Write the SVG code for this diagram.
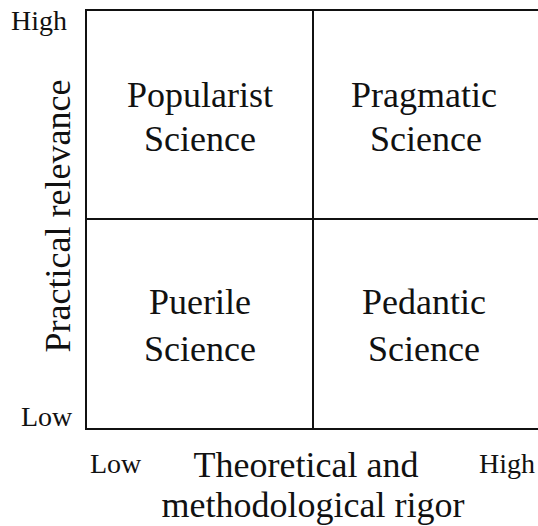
<svg xmlns="http://www.w3.org/2000/svg" width="538" height="526" viewBox="0 0 538 526" font-family="'Liberation Serif', 'DejaVu Serif', serif">
<style>
text{font-family:'Liberation Serif','DejaVu Serif',serif;fill:#111}
.q{font-size:36px;text-anchor:middle}
.s{font-size:28px}
.ax{font-size:36px;text-anchor:middle}
.ln{stroke:#111;stroke-width:2;fill:none}
</style>
<rect width="538" height="526" fill="#fff"/>
<g id="grid">
<path class="ln" d="M86 430 V10 H538 M86 429 H538 M313 10 V430 M86 219 H538"/>
</g>
<g id="q-popularist"><text class="q" x="200" y="107">Popularist</text><text class="q" x="200" y="151">Science</text></g>
<g id="q-pragmatic"><text class="q" x="424" y="107">Pragmatic</text><text class="q" x="426" y="151">Science</text></g>
<g id="q-puerile"><text class="q" x="200" y="314">Puerile</text><text class="q" x="200" y="361">Science</text></g>
<g id="q-pedantic"><text class="q" x="424" y="314">Pedantic</text><text class="q" x="424" y="361">Science</text></g>
<g id="axis-y">
<text class="s" x="11" y="30">High</text>
<text class="s" x="21" y="426">Low</text>
<text class="ax" transform="translate(70 216) rotate(-90)" x="0" y="0">Practical relevance</text>
</g>
<g id="axis-x">
<text class="s" x="90" y="473">Low</text>
<text class="s" x="479" y="473">High</text>
<text class="ax" x="306" y="477">Theoretical and</text>
<text class="ax" x="313" y="517">methodological rigor</text>
</g>
</svg>
